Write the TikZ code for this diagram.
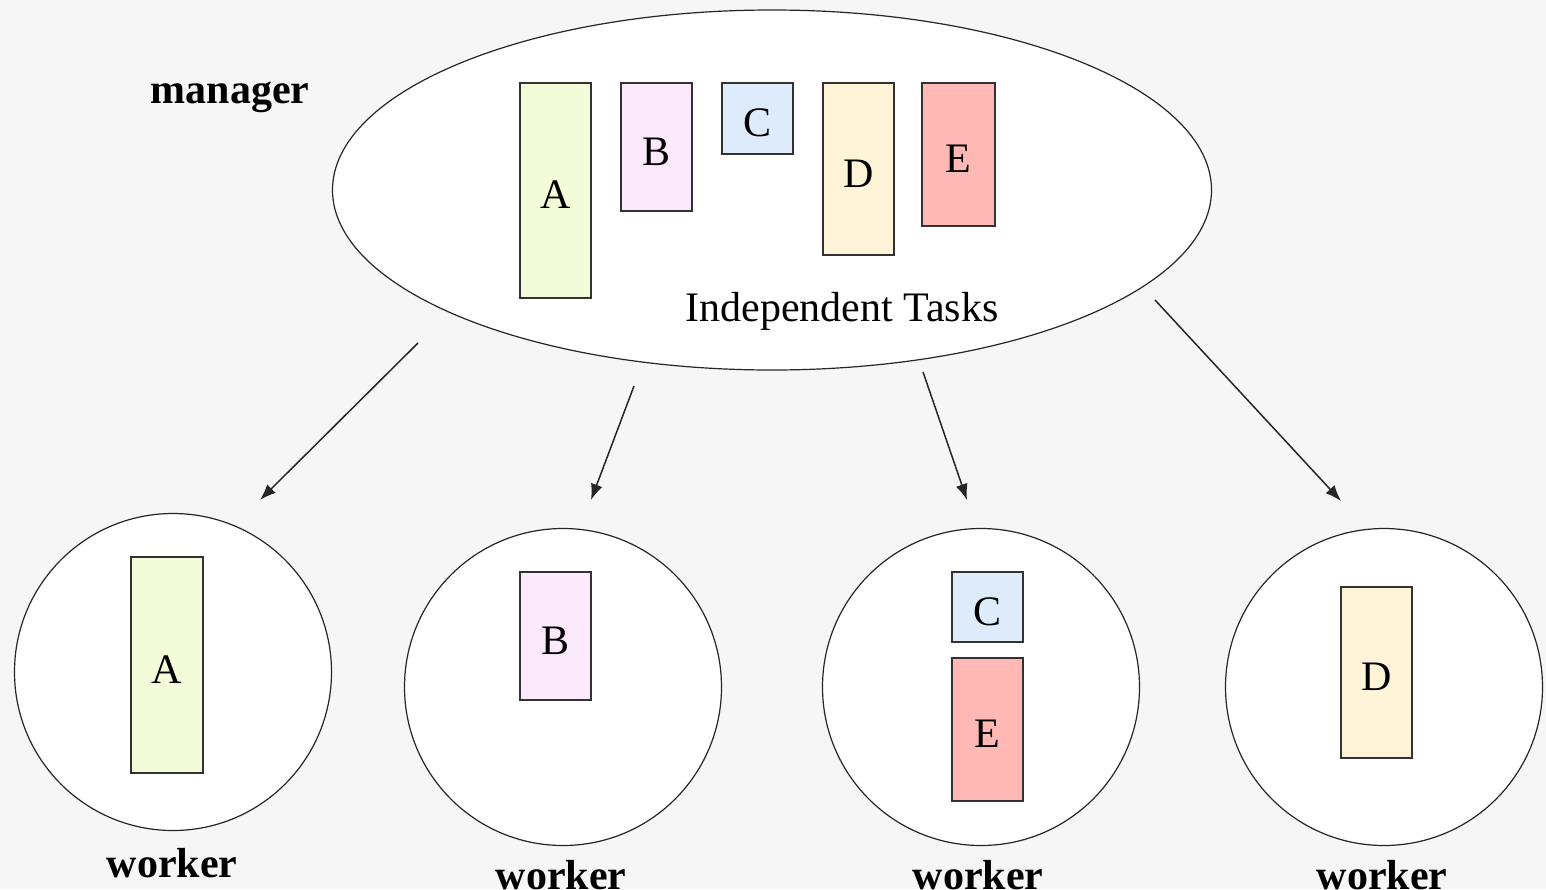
\documentclass[tikz,border=0pt]{standalone}
\usepackage{fontspec}
\setmainfont{Liberation Serif}
\usetikzlibrary{shapes.geometric,arrows.meta}
\definecolor{bg}{RGB}{246,246,246}
\definecolor{ca}{RGB}{242,252,216}
\definecolor{cb}{RGB}{252,233,252}
\definecolor{cc}{RGB}{221,235,251}
\definecolor{cd}{RGB}{255,243,216}
\definecolor{ce}{RGB}{255,184,179}
\definecolor{edge}{RGB}{50,50,50}
\tikzset{
  task/.style={draw=edge, line width=1.6pt, minimum width=71pt, inner sep=0pt, text height=36pt, text depth=0pt, font=\fontsize{42}{46}\selectfont},
  lbl/.style={font=\fontsize{42}{46}\selectfont\bfseries, inner sep=0pt},
  holder/.style={draw=black!85, line width=1.2pt, fill=white},
  flow/.style={draw=black!85, line width=1.5pt, -{Latex[length=16pt,width=12pt]}}
}
\begin{document}
\begin{tikzpicture}[x=1pt,y=-1pt]
\path[fill=bg] (0,0) rectangle (1546,889);
\useasboundingbox (0,0) rectangle (1546,889);
% manager
\node[holder, ellipse, minimum width=879pt, minimum height=360pt, inner sep=0pt] (mgr) at (772,190) {};
\node[lbl] (mlbl) at (230,97) {manager};
\node[task, fill=ca, minimum height=215pt] (mA) at (555.5,190.5) {A};
\node[task, fill=cb, minimum height=128pt] (mB) at (656.5,147) {B};
\node[task, fill=cc, minimum height=71pt] (mC) at (757.5,118.5) {C};
\node[task, fill=cd, minimum height=172pt] (mD) at (858.5,169) {D};
\node[task, fill=ce, minimum width=73pt, minimum height=143pt] (mE) at (958.5,154.5) {E};
\node[font=\fontsize{42}{46}\selectfont, inner sep=0pt] (it) at (842,311) {Independent Tasks};
% workers
\node[holder, circle, minimum size=317pt, inner sep=0pt] (w1) at (173,672) {};
\node[holder, circle, minimum size=317pt, inner sep=0pt] (w2) at (563,687) {};
\node[holder, circle, minimum size=317pt, inner sep=0pt] (w3) at (981,687) {};
\node[holder, circle, minimum size=317pt, inner sep=0pt] (w4) at (1384,687) {};
\node[task, fill=ca, minimum width=72pt, minimum height=216pt] (wA) at (167,665) {A};
\node[task, fill=cb, minimum height=128pt] (wB) at (555.5,636) {B};
\node[task, fill=cc, minimum height=70pt] (wC) at (987.5,607) {C};
\node[task, fill=ce, minimum height=143pt] (wE) at (987.5,729.5) {E};
\node[task, fill=cd, minimum height=171pt] (wD) at (1376.5,672.5) {D};
\node[lbl] (l1) at (172,863) {worker};
\node[lbl] (l2) at (561,875) {worker};
\node[lbl] (l3) at (978,875) {worker};
\node[lbl] (l4) at (1382,875) {worker};
% arrows
\coordinate (s1) at (418,343); \coordinate (e1) at (260,500);
\coordinate (s2) at (634,386); \coordinate (e2) at (591,500);
\coordinate (s3) at (923,372); \coordinate (e3) at (967,500);
\coordinate (s4) at (1155,300); \coordinate (e4) at (1341,501);
\draw[flow] (s1) -- (e1);
\draw[flow] (s2) -- (e2);
\draw[flow] (s3) -- (e3);
\draw[flow] (s4) -- (e4);
\end{tikzpicture}
\end{document}
